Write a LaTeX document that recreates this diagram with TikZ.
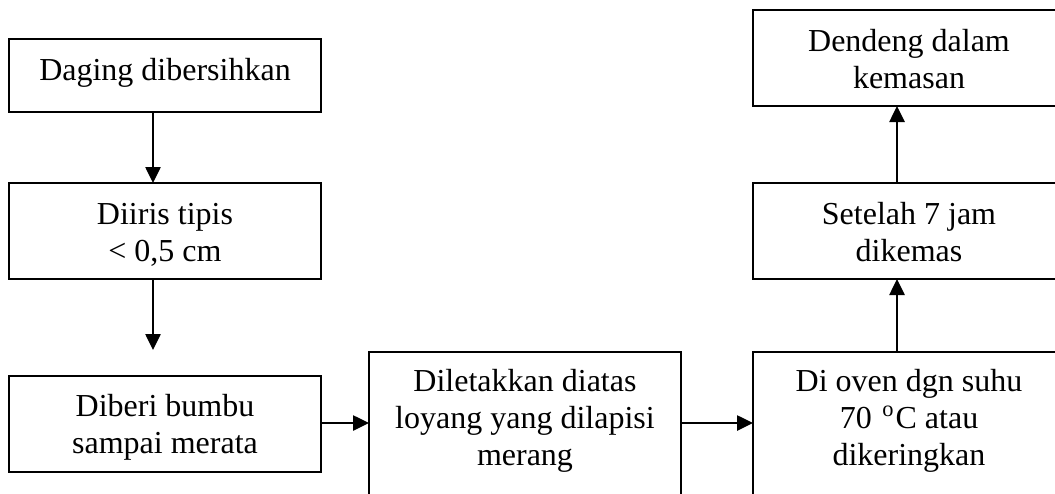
\documentclass[tikz,border=0pt]{standalone}
\usepackage{fontspec}
\setmainfont{Liberation Serif}
\usetikzlibrary{arrows.meta,calc}
\tikzset{
  box/.style={draw, rectangle, line width=1.3pt, inner sep=0pt, outer sep=0pt, minimum width=234pt},
  lbl/.style={align=center, inner sep=0pt, anchor=base, font=\fontsize{24}{27.4}\selectfont},
  arr/.style={line width=1.1pt, -{Triangle[length=12pt, width=11.5pt]}}
}
\begin{document}
\begin{tikzpicture}[x=0.75pt,y=-0.75pt]
\useasboundingbox (0,0) rectangle (1055,493);
\clip (0,0) rectangle (1055,493);
% boxes
\node[box, minimum height=54.75pt] (b1) at (165,75.5) {};
\node[box, minimum height=72pt] (b2) at (165,231) {};
\node[box, minimum height=72pt] (b3) at (165,424) {};
\node[box, minimum height=156pt] (b4) at (525,456) {};
\node[box, minimum height=156pt] (b5) at (909,456) {};
\node[box, minimum height=72pt] (b6) at (909,231) {};
\node[box, minimum height=72pt] (b7) at (909,58) {};
% texts
\node[lbl] (t1) at (165,80) {Daging dibersihkan};
\node[lbl] (t2) at (165,261) {Diiris tipis\\< 0,5 cm};
\node[lbl] (t3) at (165,453) {Diberi bumbu\\sampai merata};
\node[lbl] (t4) at (525,465) {Diletakkan diatas\\loyang yang dilapisi\\merang};
\node[lbl] (t5) at (909,465) {Di oven dgn suhu\\70 \kern2pt\textsuperscript{o}\kern1pt C atau\\dikeringkan};
\node[lbl] (t6) at (909,261) {Setelah 7 jam\\dikemas};
\node[lbl] (t7) at (909,88) {Dendeng dalam\\kemasan};
% connectors
\coordinate (c3) at (153,350);
\draw[arr] ([xshift=-9pt]b1.south) -- ([xshift=-9pt]b2.north);
\draw[arr] ([xshift=-9pt]b2.south) -- (c3);
\draw[arr] ([yshift=0.75pt]b3.east) -- ([yshift=0.75pt]b3.east -| b4.west);
\draw[arr] ([yshift=0.75pt]b3.east -| b4.east) -- ([yshift=0.75pt]b3.east -| b5.west);
\draw[arr] ([xshift=-9pt]b5.north) -- ([xshift=-9pt]b6.south);
\draw[arr] ([xshift=-9pt]b6.north) -- ([xshift=-9pt]b7.south);
\end{tikzpicture}
\end{document}
